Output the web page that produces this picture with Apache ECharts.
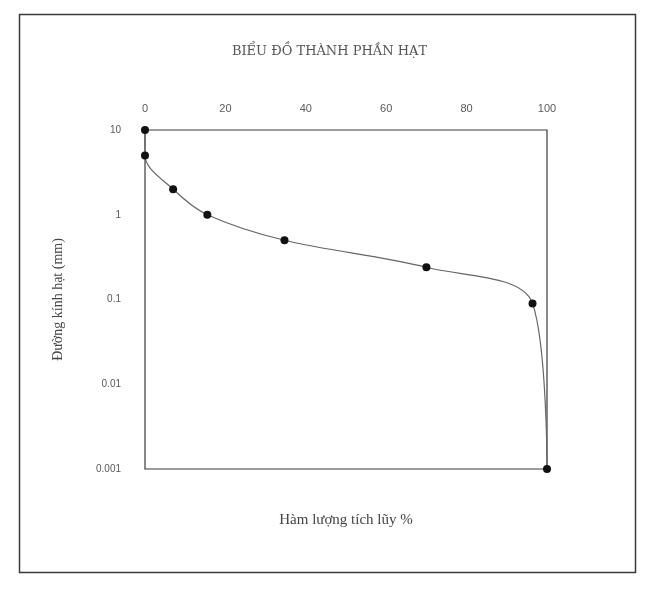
<!DOCTYPE html>
<html>
<head>
<meta charset="utf-8">
<script src="https://cdn.jsdelivr.net/npm/echarts@6/dist/echarts.min.js"></script>
<style>html,body{margin:0;padding:0;background:#fff;}#c{width:659px;height:589px;}</style>
</head>
<body>
<div id="c"></div>
<script>
const titleText = 'BIỂU ĐỒ THÀNH PHẦN HẠT';
const xName = 'Hàm lượng tích lũy %';
const yName = 'Đường kính hạt (mm)';
const xTicks = [0, 20, 40, 60, 80, 100];
const yTicks = [10, 1, 0.1, 0.01, 0.001];
const cumPercent = [0, 0, 7, 15.5, 34.7, 70, 96.4, 100];
const diameter = [10, 5, 2, 1, 0.5, 0.24, 0.09, 0.001];

const chart = echarts.init(document.getElementById('c'), null, {renderer: 'canvas'});
const pts = cumPercent.map((x, i) => [x, diameter[i]]);
const txt = '#5a5a5a';
chart.setOption({
  animation: false,
  backgroundColor: '#fff',
  title: {
    text: titleText, left: 'center', top: 40,
    textStyle: {fontFamily: 'DejaVu Serif', fontSize: 13, fontWeight: 'normal', color: '#555'}
  },
  grid: {left: 145, right: 112, top: 130, bottom: 120, show: true, borderColor: '#3a3a3a', borderWidth: 1.2},
  xAxis: [{
    type: 'value', position: 'top', min: 0, max: 100, interval: 20,
    axisLine: {show: false}, axisTick: {show: false}, splitLine: {show: false},
    axisLabel: {color: txt, fontFamily: 'Liberation Sans', fontSize: 11, margin: 16,
      formatter: v => xTicks.includes(v) ? String(v) : ''}
  }, {
    type: 'value', position: 'bottom', min: 0, max: 100,
    axisLine: {show: false}, axisTick: {show: false}, splitLine: {show: false}, axisLabel: {show: false},
    name: xName, nameLocation: 'middle', nameGap: 44,
    nameTextStyle: {fontFamily: 'Liberation Serif', fontSize: 15, color: '#444'}
  }],
  yAxis: {
    type: 'log', logBase: 10, min: 0.001, max: 10,
    axisLine: {show: false}, axisTick: {show: false}, splitLine: {show: false},
    axisLabel: {color: txt, fontFamily: 'Liberation Sans', fontSize: 10, margin: 24,
      formatter: v => { const t = yTicks.find(k => Math.abs(Math.log10(k) - Math.log10(v)) < 1e-6); return t === undefined ? '' : String(t); }},
    name: yName, nameLocation: 'middle', nameGap: 80, nameRotate: 90,
    nameTextStyle: {fontFamily: 'Liberation Serif', fontSize: 14, color: '#444'}
  },
  graphic: [{
    type: 'rect', left: 17, top: 12, silent: true,
    shape: {width: 616, height: 558},
    style: {fill: 'none', stroke: '#3a3a3a', lineWidth: 1.5}
  }],
  series: [{
    type: 'line', xAxisIndex: 0, data: pts, smooth: 0.35,
    symbol: 'circle', symbolSize: 8,
    itemStyle: {color: '#111'},
    lineStyle: {color: '#666', width: 1.2}
  }]
});
</script>
</body>
</html>
